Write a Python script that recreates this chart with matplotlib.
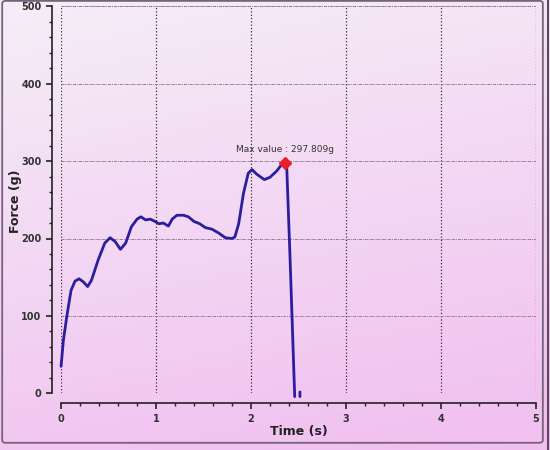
#!/usr/bin/env python3
"""Force vs time curve with max value marker"""
import numpy as np
import matplotlib
matplotlib.use("Agg")
import matplotlib.pyplot as plt
from matplotlib.patches import FancyBboxPatch
from matplotlib.lines import Line2D
from matplotlib.ticker import MultipleLocator

plt.rcParams['font.family'] = ['DejaVu Sans']

# ========== data ==========
time_s = [0.00, 0.025, 0.06, 0.105, 0.147, 0.19, 0.235, 0.28, 0.32, 0.39,
          0.46, 0.516, 0.57, 0.625, 0.68, 0.74, 0.80, 0.84, 0.89, 0.94,
          0.99, 1.03, 1.077, 1.13, 1.17, 1.22, 1.29, 1.34, 1.40, 1.46,
          1.52, 1.59, 1.66, 1.73, 1.80, 1.83, 1.87, 1.92, 1.97, 2.01,
          2.06, 2.14, 2.20, 2.27, 2.32, 2.355, 2.375, 2.41, 2.46,
          np.nan, 2.515, 2.515]
force_g = [35, 69, 99, 133, 145, 148, 144, 138, 146, 172,
           194, 201, 196, 186, 194, 215, 225, 228, 224, 225,
           222, 219, 220, 216, 225, 230, 230, 228, 222, 219,
           214, 212, 207, 201, 200, 202, 219, 258, 284, 289,
           283, 276, 279, 287, 295, 297.8, 296, 178, -4,
           np.nan, -4, 2]
max_time = 2.355
max_force = 297.809

fig = plt.figure(figsize=(5.5, 4.5), dpi=100)

# background gradient over the whole figure
bg = fig.add_axes([0, 0, 1, 1], zorder=-10)
vv = np.linspace(0, 1, 200)[:, None]
hh = np.linspace(0, 1, 200)[None, :]
t = np.clip(0.8 * vv + 0.2 * hh, 0, 1)
top = np.array([245, 238, 247]) / 255
bot = np.array([241, 190, 240]) / 255
img = top[None, None, :] * (1 - t[..., None]) + bot[None, None, :] * t[..., None]
bg.imshow(img, aspect='auto', extent=[0, 1, 0, 1], origin='upper')
bg.axis('off')

# outer frame
fig.patches.append(FancyBboxPatch((0.004, 0.016), 0.983, 0.982,
                                  boxstyle="round,pad=0,rounding_size=0.006",
                                  transform=fig.transFigure, fill=False,
                                  edgecolor='#76627a', linewidth=1.3))
fig.lines.append(Line2D([0.997, 0.997], [0.0, 1.0], transform=fig.transFigure,
                        color='#5a4a5e', linewidth=1.5))

ax = fig.add_axes([0.111, 0.1256, 0.8635, 0.861])
ax.set_facecolor('none')

ax.plot(time_s, force_g, color='#2a1e9e', linewidth=2.0, clip_on=False, zorder=3,
        solid_joinstyle='round', solid_capstyle='round')
ax.plot([max_time], [max_force], marker='D', color='#e8202a', markersize=6,
        zorder=4, clip_on=False)
ax.annotate(f'Max value : {max_force}g', (max_time, max_force),
            xytext=(0, 6), textcoords='offset points', ha='center', va='bottom',
            fontsize=6.5, color='#333333')

ax.set_xlim(0, 5)
ax.set_ylim(0, 500)
ax.xaxis.set_major_locator(MultipleLocator(1))
ax.xaxis.set_minor_locator(MultipleLocator(0.2))
ax.yaxis.set_major_locator(MultipleLocator(100))
ax.yaxis.set_minor_locator(MultipleLocator(20))

# grid
ax.xaxis.grid(True, which='major', linestyle=':', color='#3a2f3a', linewidth=0.9)
ax.yaxis.grid(True, which='major', linestyle=(0, (3, 1, 1, 1)), color='#8e7e92', linewidth=0.7)
ax.axhline(500, linestyle=(0, (3, 1, 1, 1)), color='#8e7e92', linewidth=0.7)
ax.set_axisbelow(True)

for s in ['top', 'right']:
    ax.spines[s].set_visible(False)
ax.spines['left'].set_position(('outward', 6.5))
ax.spines['bottom'].set_position(('outward', 7))
for s in ['left', 'bottom']:
    ax.spines[s].set_color('#222222')
    ax.spines[s].set_linewidth(1.2)

ax.tick_params(which='major', direction='out', length=4.5, width=1.2, color='#222222',
               labelsize=7, labelcolor='#333333', pad=3)
ax.tick_params(which='minor', direction='out', length=2.5, width=1.0, color='#222222')
for lbl in ax.get_xticklabels() + ax.get_yticklabels():
    lbl.set_fontweight('bold')

ax.set_xlabel('Time (s)', fontsize=9, fontweight='bold', color='#222222', labelpad=1)
fig.text(15 / 550, 0.553, 'Force (g)', rotation=90, ha='center', va='center',
         fontsize=9, fontweight='bold', color='#222222')

plt.savefig('out.png', dpi=100)
plt.close()
